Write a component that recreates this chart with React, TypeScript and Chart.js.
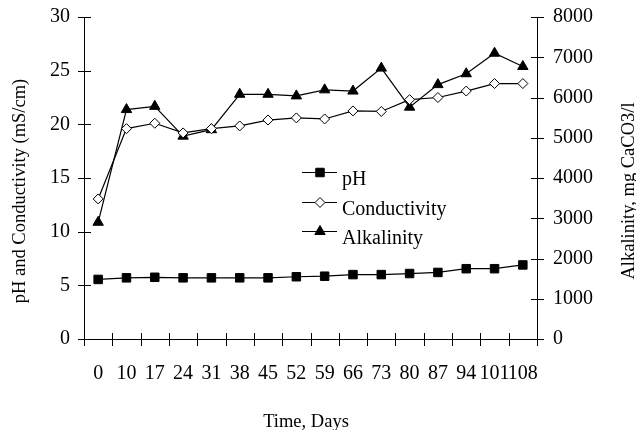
import React, { useEffect, useRef } from 'react';
import { Chart, registerables } from 'chart.js';
import { drawPoint } from 'chart.js/helpers';

Chart.register(...registerables);

// Sampling days
const days = ['0', '10', '17', '24', '31', '38', '45', '52', '59', '66', '73', '80', '87', '94', '101', '108'];

// Measured series
const ph = [5.55, 5.7, 5.75, 5.7, 5.7, 5.7, 5.7, 5.8, 5.85, 6.0, 6.0, 6.1, 6.2, 6.55, 6.55, 6.9];
const conductivity = [13.05, 19.6, 20.1, 19.2, 19.6, 19.85, 20.4, 20.6, 20.5, 21.25, 21.2, 22.3, 22.5, 23.1, 23.8, 23.8];
const alkalinity = [2900, 5700, 5780, 5040, 5200, 6080, 6080, 6040, 6190, 6160, 6730, 5760, 6320, 6590, 7100, 6770];

// Axis ranges
const leftMax = 30;
const leftStep = 5;
const rightMax = 8000;
const rightStep = 1000;

const FONT = "'Liberation Serif', 'Times New Roman', serif";

const seriesStyle = [
  { label: 'pH', data: ph, axis: 'y', pointStyle: 'rect', radius: 6, fill: '#000' },
  { label: 'Conductivity', data: conductivity, axis: 'y', pointStyle: 'rectRot', radius: 5, fill: '#fff' },
  { label: 'Alkalinity', data: alkalinity, axis: 'y1', pointStyle: 'triangle', radius: 6, fill: '#000' },
];

// Cross-style tick marks, axis titles and the in-plot legend
const decorations = {
  id: 'decorations',
  afterDraw(chart: any) {
    const ctx = chart.ctx;
    const area = chart.chartArea;
    const x = chart.scales.x;
    const y = chart.scales.y;
    const y1 = chart.scales.y1;
    ctx.save();
    ctx.fillStyle = '#000';
    const step = x.getPixelForValue(1) - x.getPixelForValue(0);
    const bottom = Math.round(area.bottom);
    for (let i = 0; i <= days.length; i++) {
      const px = Math.round(x.getPixelForValue(i) - step / 2);
      ctx.fillRect(px, bottom - 6, 1, 13);
    }
    const left = Math.round(area.left);
    const right = Math.round(area.right);
    y.ticks.forEach((t: any) => {
      const py = Math.round(y.getPixelForValue(t.value));
      ctx.fillRect(left - 6, py, 13, 1);
    });
    y1.ticks.forEach((t: any) => {
      const py = Math.round(y1.getPixelForValue(t.value));
      ctx.fillRect(right - 6, py, 13, 1);
    });

    // Axis titles
    ctx.font = `18.5px ${FONT}`;
    ctx.textAlign = 'center';
    ctx.textBaseline = 'middle';
    ctx.fillText('Time, Days', 306, 422);
    ctx.save();
    ctx.translate(20, 191);
    ctx.rotate(-Math.PI / 2);
    ctx.fillText('pH and Conductivity (mS/cm)', 0, 0);
    ctx.restore();
    ctx.save();
    ctx.translate(629, 191);
    ctx.rotate(-Math.PI / 2);
    ctx.fillText('Alkalinity, mg CaCO3/l', 0, 0);
    ctx.restore();

    // Legend
    const lx = 302;
    const ly = [172, 202, 231];
    chart.data.datasets.forEach((ds: any, i: number) => {
      ctx.fillStyle = '#000';
      ctx.fillRect(lx, ly[i], 35, 1);
      ctx.fillStyle = ds.pointBackgroundColor;
      ctx.strokeStyle = '#000';
      ctx.lineWidth = 1;
      drawPoint(ctx, { pointStyle: ds.pointStyle, radius: ds.pointRadius, rotation: 0, borderWidth: 1 }, lx + 18, ly[i] + 0.5);
      ctx.fillStyle = '#000';
      ctx.font = `20px ${FONT}`;
      ctx.textAlign = 'left';
      ctx.textBaseline = 'alphabetic';
      ctx.fillText(ds.label, lx + 40, ly[i] + 13);
    });
    ctx.restore();
  },
};

const noPadding = (s: any) => {
  s.paddingTop = 0;
  s.paddingBottom = 0;
  s.paddingLeft = 0;
  s.paddingRight = 0;
};

export default function App() {
  const canvasRef = useRef<HTMLCanvasElement | null>(null);

  useEffect(() => {
    document.body.style.margin = '0';
    const canvas = canvasRef.current;
    if (!canvas) return;
    const tickFont = { family: FONT, size: 20 };
    const chart = new Chart(canvas, {
      type: 'line',
      data: {
        labels: days,
        datasets: seriesStyle.map((s) => ({
          label: s.label,
          data: s.data,
          yAxisID: s.axis,
          borderColor: '#000',
          borderWidth: 1.2,
          pointStyle: s.pointStyle as any,
          pointRadius: s.radius,
          pointBackgroundColor: s.fill,
          pointBorderColor: '#000',
          pointBorderWidth: 1,
          tension: 0,
          fill: false,
        })),
      },
      options: {
        responsive: false,
        animation: false,
        devicePixelRatio: 1,
        layout: { padding: { top: 17, left: 0, right: 0, bottom: 0 } },
        plugins: { legend: { display: false }, tooltip: { enabled: false } },
        scales: {
          x: {
            type: 'category',
            offset: true,
            grid: { display: false, drawTicks: false },
            border: { display: true, color: '#000', width: 1 },
            ticks: { color: '#000', font: tickFont, padding: 23, autoSkip: false, maxRotation: 0, minRotation: 0 },
            afterFit: (s: any) => { s.height = 91; noPadding(s); },
          },
          y: {
            position: 'left',
            min: 0,
            max: leftMax,
            grid: { display: false, drawTicks: false },
            border: { display: true, color: '#000', width: 1 },
            ticks: { stepSize: leftStep, color: '#000', font: tickFont, padding: 14 },
            afterFit: (s: any) => { s.width = 84; noPadding(s); },
          },
          y1: {
            position: 'right',
            min: 0,
            max: rightMax,
            grid: { display: false, drawTicks: false },
            border: { display: true, color: '#000', width: 1 },
            ticks: { stepSize: rightStep, color: '#000', font: tickFont, padding: 16, callback: (v: any) => String(v) },
            afterFit: (s: any) => { s.width = 99; noPadding(s); },
          },
        },
      },
      plugins: [decorations],
    });
    return () => chart.destroy();
  }, []);

  return (
    <div style={{ width: 636, height: 430 }}>
      <canvas ref={canvasRef} width={636} height={430} style={{ display: 'block', width: 636, height: 430 }} />
    </div>
  );
}
